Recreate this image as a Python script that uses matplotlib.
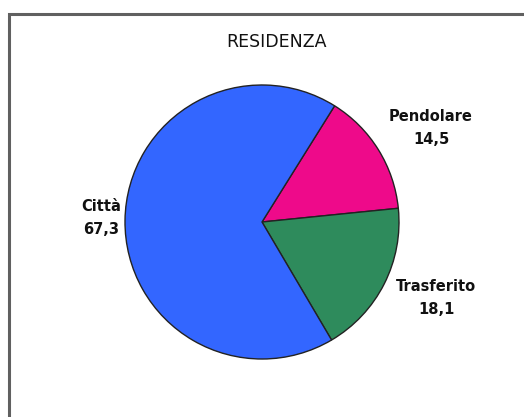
import matplotlib
matplotlib.use("Agg")
import matplotlib.pyplot as plt
import matplotlib.patches as mpatches

# ── Data ──────────────────────────────────────────────────────────────────────
title = "RESIDENZA"
labels = ["Pendolare", "Trasferito", "Città"]
values = [14.5, 18.1, 67.3]
value_labels = ["14,5", "18,1", "67,3"]

# ── Style ─────────────────────────────────────────────────────────────────────
colors = ["#ee0a8a", "#2e8b5c", "#3366ff"]
W, H = 524, 417
center = (262, H - 222)
radius = 137
label_pos = [(431, H - 128), (436, H - 298), (101, H - 218)]

fig = plt.figure(figsize=(W / 100, H / 100), dpi=100)
ax = fig.add_axes([0, 0, 1, 1])

ax.pie(values, colors=colors, startangle=58, counterclock=False,
       center=center, radius=radius, frame=False,
       wedgeprops=dict(edgecolor="#222222", linewidth=1.0))
ax.set_xlim(0, W)
ax.set_ylim(0, H)
ax.set_aspect("equal")
ax.set_axis_off()

for lab, val, (x, y) in zip(labels, value_labels, label_pos):
    ax.text(x, y, f"{lab}\n{val}", ha="center", va="center",
            fontsize=10.5, fontweight="bold", color="#111111",
            linespacing=1.7)

ax.text(277, H - 42, title, ha="center", va="center",
        fontsize=12.5, color="#111111")

# outer frame, runs off the right and bottom edges
ax.add_patch(mpatches.Rectangle((9, -20), 700, H - 13.5 + 20,
                                fill=False, edgecolor="#606060", linewidth=2.2))

fig.savefig("out.png", dpi=100, facecolor="white")
